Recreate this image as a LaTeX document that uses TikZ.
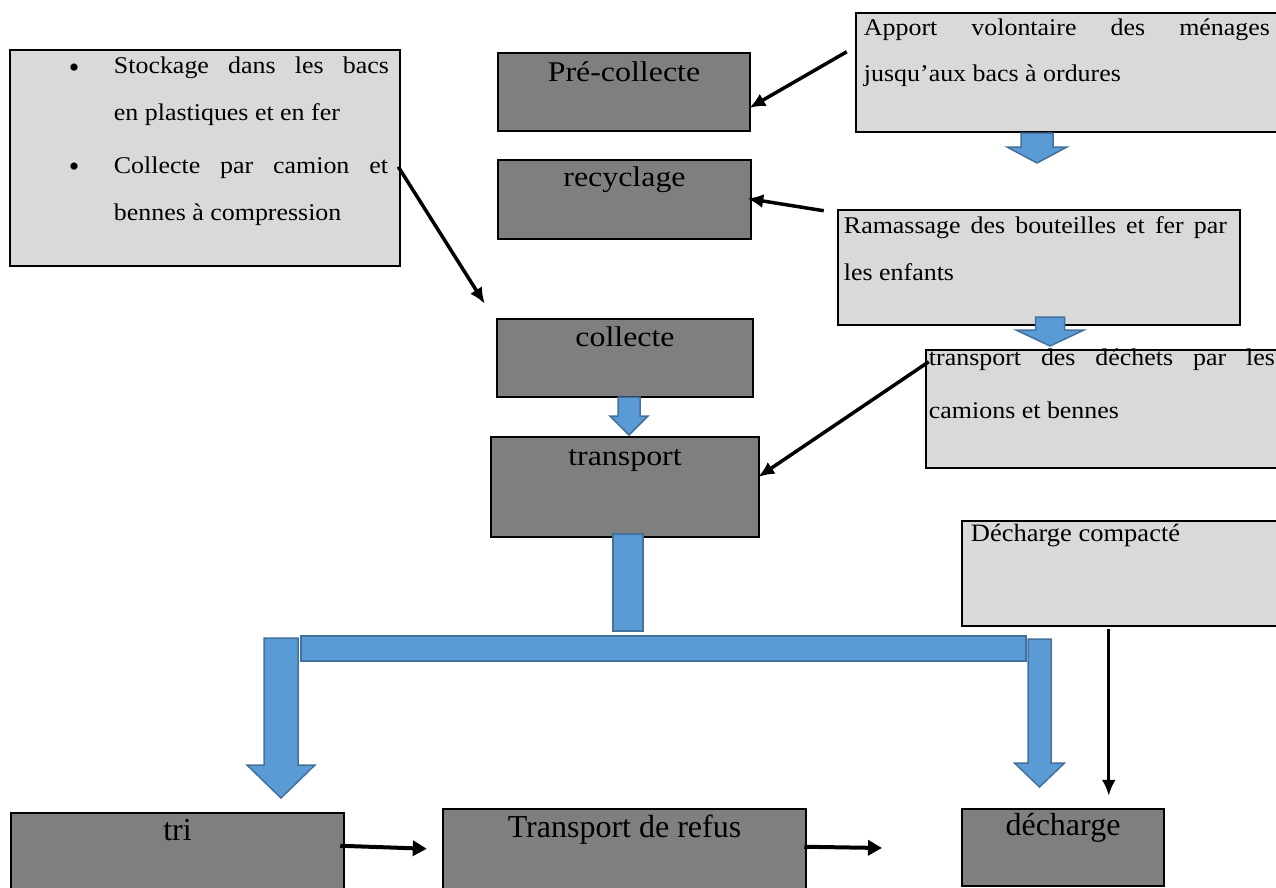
\documentclass[tikz,border=0pt]{standalone}
\usepackage{fontspec}
\setmainfont{Liberation Serif}
\newfontfamily\lightfont{Liberation Serif}[FakeStretch=1.08]
\newfontfamily\topfont{Liberation Serif}[FakeStretch=1.12]
\newfontfamily\notefont{Liberation Serif}[FakeStretch=1.06]
\usetikzlibrary{arrows.meta,calc,fit}

\definecolor{darkfill}{HTML}{7F7F7F}
\definecolor{lightfill}{HTML}{D9D9D9}
\definecolor{blockfill}{HTML}{5B9BD5}
\definecolor{blockline}{HTML}{41719C}

% down-pointing block arrow: centre x, top y, head start y, tip y, shaft half width, head half width
\newcommand\blockdown[6]{%
  \filldraw[blockarrow] (#1-#5,#2) -- (#1+#5,#2) -- (#1+#5,#3) -- (#1+#6,#3)
    -- (#1,#4) -- (#1-#6,#3) -- (#1-#5,#3) -- cycle;}

\begin{document}
\begin{tikzpicture}[x=1pt,y=-1pt,
  darkbox/.style={draw=black, line width=2.5pt, fill=darkfill, inner sep=0pt},
  lightbox/.style={draw=black, line width=2.5pt, fill=lightfill, inner sep=0pt},
  blockarrow/.style={fill=blockfill, draw=blockline, line width=1.5pt, line join=miter},
  lt/.style={anchor=base west, inner sep=0pt, font=\lightfont\fontsize{24}{46}\selectfont},
  bul/.style={anchor=base west, inner sep=0pt, font=\rmfamily\fontsize{30}{36}\selectfont},
  toplabel/.style={anchor=base, inner sep=0pt, font=\topfont\fontsize{28.5}{33}\selectfont},
  botlabel/.style={anchor=base, inner sep=0pt, font=\rmfamily\fontsize{32}{38}\selectfont},
  note/.style={anchor=base west, inner sep=0pt, font=\notefont\fontsize{25}{30}\selectfont},
  pointer/.style={line width=3.5pt, -{Latex[length=16pt,width=14pt]}},
  thinpointer/.style={line width=3pt, -{Latex[length=16pt,width=14pt]}},
  flow/.style={line width=4pt, -{Triangle[length=14pt,width=15pt]}}]

\useasboundingbox (0,0) rectangle (1276,887);
\clip (0,0) rectangle (1276,887);

% ---- boxes ----
\node[lightbox, fit={(10,50) (400,266)}] (leftbox) {};
\node[darkbox, fit={(498,53) (750,131)}] (precol) {};
\node[darkbox, fit={(498,160) (751,239)}] (recycl) {};
\node[darkbox, fit={(497,319) (753,397)}] (collecte) {};
\node[darkbox, fit={(491,437) (759,537)}] (transport) {};
\node[lightbox, fit={(856,13) (1280,132)}] (apport) {};
\node[lightbox, fit={(838,210) (1240,325)}] (ramassage) {};
\node[lightbox, fit={(926,350) (1280,468)}] (tdech) {};
\node[lightbox, fit={(962,521) (1280,626)}] (dcomp) {};
\node[darkbox, fit={(11,813) (344,895)}] (tri) {};
\node[darkbox, fit={(443,809) (806,895)}] (trefus) {};
\node[darkbox, fit={(962,809) (1164,886)}] (decharge) {};

% ---- labels of the process steps ----
\node[toplabel] (precol-t) at ($(precol.north)+(0,30)$) {Pré-collecte};
\node[toplabel] (recycl-t) at ($(recycl.north)+(0,28)$) {recyclage};
\node[toplabel] (collecte-t) at ($(collecte.north)+(0,29)$) {collecte};
\node[toplabel] (transport-t) at ($(transport.north)+(0,30)$) {transport};
\node[botlabel] (tri-t) at ($(tri.north)+(0,29)$) {tri};
\node[botlabel] (trefus-t) at ($(trefus.north)+(0,30)$) {Transport de refus};
\node[botlabel] (decharge-t) at ($(decharge.north)+(0,28)$) {décharge};

% ---- descriptive texts ----
\node[bul] (bul1) at ($(leftbox.north west)+(60,29)$) {•};
\node[bul] (bul2) at ($(leftbox.north west)+(60,128)$) {•};
\node[lt] (lb1) at ($(leftbox.north west)+(105,25)$) {\makebox[275pt][s]{Stockage dans les bacs}};
\node[lt] (lb2) at ($(leftbox.north west)+(105,72)$) {en plastiques et en fer};
\node[lt] (lb3) at ($(leftbox.north west)+(105,125)$) {\makebox[274pt][s]{Collecte par camion et}};
\node[lt] (lb4) at ($(leftbox.north west)+(105,172)$) {bennes à compression};

\node[lt] (ap1) at ($(apport.north west)+(9,24)$) {\makebox[406pt][s]{Apport volontaire des ménages}};
\node[lt] (ap2) at ($(apport.north west)+(9,70)$) {jusqu’aux bacs à ordures};

\node[lt] (ra1) at ($(ramassage.north west)+(7,25)$) {\makebox[383pt][s]{Ramassage des bouteilles et fer par}};
\node[lt] (ra2) at ($(ramassage.north west)+(7,72)$) {les enfants};

\node[lt] (td1) at ($(tdech.north west)+(4,17)$) {\makebox[346pt][s]{transport des déchets par les}};
\node[lt] (td2) at ($(tdech.north west)+(4,70)$) {camions et bennes};

\node[note] (dc1) at ($(dcomp.north west)+(10,22)$) {Décharge compacté};

% ---- block arrows ----
\blockdown{1037}{133}{147}{163}{16}{30}
\blockdown{1050}{317}{330}{346}{14.5}{34}
\blockdown{629}{397}{416}{435}{11}{19}
\filldraw[blockarrow] (613,534) rectangle (643,631);
\filldraw[blockarrow] (301,636) rectangle (1026,661);
\blockdown{281}{638}{765}{798}{17}{34}
\blockdown{1039.5}{639}{763}{787}{11.5}{25}

% ---- pointers ----
\draw[pointer] ($(apport.north west)+(-8,40)$) -- ($(precol.east)+(-2,16)$);
\draw[pointer] ($(ramassage.north west)+(-13,2)$) -- ($(recycl.east)+(-5,-1)$);
\draw[pointer] ($(leftbox.north east)+(-3,118)$) -- ($(collecte.north west)+(-11,-14)$);
\draw[pointer] ($(tdech.north west)+(4,13)$) -- ($(transport.east)+(-2,-10)$);
\draw[thinpointer] ($(dcomp.south west)+(148,2)$) -- ($(decharge.north west)+(148,-12)$);

% ---- flow along the bottom row ----
\coordinate (refus-end) at (882,848);
\draw[flow] ($(tri.north east)+(-5,34)$) -- ($(trefus.north west)+(-15,41)$);
\draw[flow] ($(trefus.north east)+(-3,39)$) -- (refus-end);

\end{tikzpicture}
\end{document}
